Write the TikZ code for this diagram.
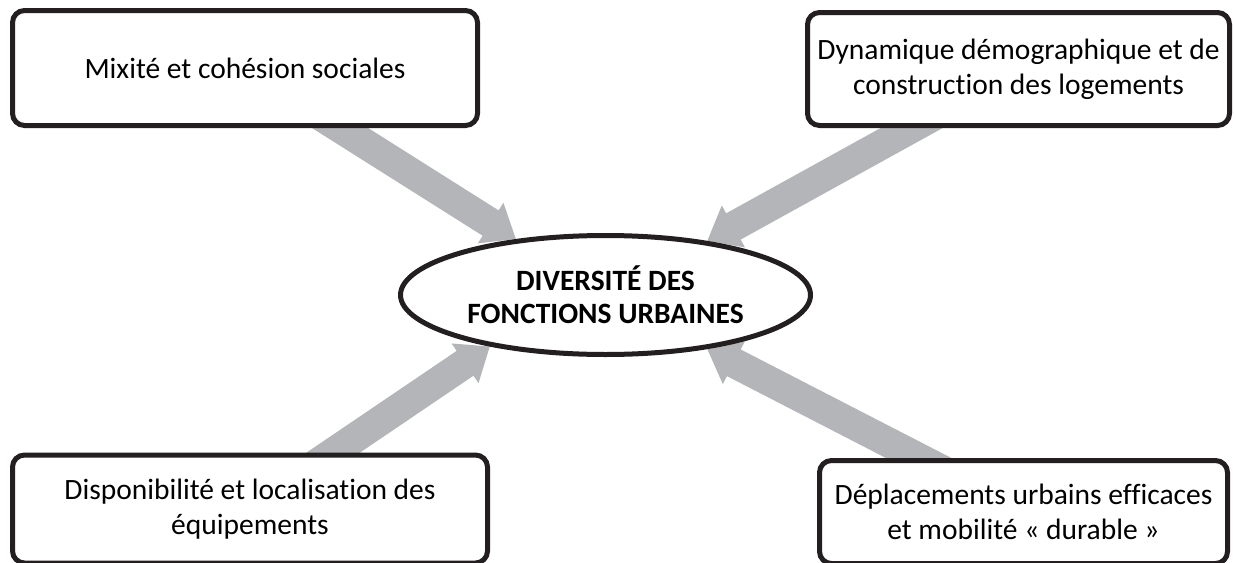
\documentclass[tikz,border=0pt]{standalone}
\usepackage{fontspec}
\setmainfont{Carlito}[Ligatures=NoCommon]
\usetikzlibrary{arrows.meta,shapes.geometric,backgrounds}

\definecolor{arrowgray}{HTML}{B4B5B8}
\definecolor{boxblack}{HTML}{231F20}

\tikzset{
  box/.style={draw=boxblack, line width=5pt, rounded corners=12pt, fill=white,
    align=center, inner sep=0pt, font=\fontsize{29.5}{35}\selectfont},
  hub/.style={ellipse, draw=boxblack, line width=5pt, fill=white, align=center,
    inner sep=0pt, minimum width=410pt, minimum height=119pt,
    font=\fontsize{29.5}{33}\selectfont\bfseries},
  influence/.style={arrowgray, line width=30pt, -{Triangle[width=46pt,length=30pt]}},
}

\begin{document}
\begin{tikzpicture}[x=1pt,y=-1pt]
  \useasboundingbox (0,0) rectangle (1236,562);

  \node[hub] (urban) at (605.5,295) {DIVERSITÉ DES\\FONCTIONS URBAINES};

  \node[box, minimum width=465pt, minimum height=115pt] (mix) at (245,68)
    {Mixité et cohésion sociales};
  \node[box, minimum width=422pt, minimum height=113pt] (demo) at (1018.5,69)
    {Dynamique démographique et de\\construction des logements};
  \node[box, minimum width=475pt, minimum height=108pt] (equip) at (250,509)
    {Disponibilité et localisation des\\équipements};
  \node[box, minimum width=408pt, minimum height=103pt] (mobil) at (1023.5,512)
    {Déplacements urbains efficaces\\et mobilité « durable »};

  % grey arrows behind the boxes
  \begin{scope}[on background layer]
    \draw[influence] (mix.center) -- (urban.148.6);
    \draw[influence] (demo.center) -- (urban.28.5);
    \draw[influence] (equip.center) -- (urban.204.5);
    \draw[influence] (mobil.center) -- (urban.332.7);
  \end{scope}
\end{tikzpicture}
\end{document}
